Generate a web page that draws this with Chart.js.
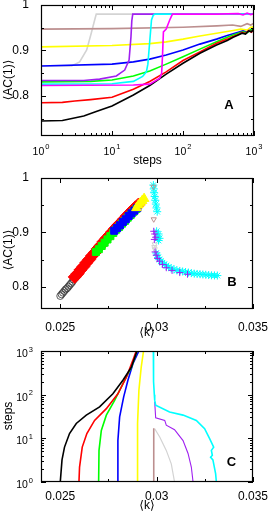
<!DOCTYPE html>
<html>
<head>
<meta charset="utf-8">
<script src="https://cdn.jsdelivr.net/npm/chart.js@4.4.1/dist/chart.umd.min.js"></script>
<style>
html, body { margin: 0; padding: 0; background: #fff; }
#wrap { position: relative; width: 270px; height: 515px; }
canvas { position: absolute; left: 0; }
</style>
</head>
<body>
<div id="wrap">
  <canvas id="chartA" width="270" height="170" style="top:0"></canvas>
  <canvas id="chartB" width="270" height="170" style="top:170px"></canvas>
  <canvas id="chartC" width="270" height="175" style="top:340px"></canvas>
</div>
<script>
// ---- panel A: <AC(1)> vs steps ----
const stepsBlack = [1,2,4,6,10,20,34,58,100,173,297,420,509,600,680,760,840,920,1000]
const acBlack = [0.745,0.746,0.756,0.766,0.778,0.802,0.823,0.848,0.872,0.894,0.912,0.922,0.929,0.934,0.938,0.936,0.943,0.941,0.948]
const stepsRed = [1,2,3,5,10,20,34,58,100,173,297,420,509,600,680,760,840,920,1000]
const acRed = [0.785,0.786,0.789,0.792,0.797,0.815,0.832,0.853,0.878,0.897,0.916,0.925,0.931,0.935,0.940,0.937,0.944,0.940,0.947]
const stepsGreen = [1,5,10,20,34,58,100,173,297,420,509,600,700,800,900,1000]
const acGreen = [0.831,0.832,0.835,0.844,0.855,0.870,0.886,0.903,0.919,0.929,0.934,0.938,0.941,0.939,0.945,0.947]
const stepsBlue = [1,10,20,34,58,100,173,297,420,509,600,700,800,900,1000]
const acBlue = [0.866,0.870,0.875,0.881,0.890,0.901,0.914,0.925,0.933,0.937,0.940,0.943,0.940,0.946,0.945]
const stepsYellow = [1,10,34,58,100,173,297,509,650,800,900,1000]
const acYellow = [0.908,0.911,0.915,0.919,0.925,0.932,0.938,0.944,0.947,0.945,0.951,0.952]
const stepsBrown = [1,10,100,300,500,650,800,900,1000]
const acBrown = [0.947,0.948,0.951,0.954,0.956,0.953,0.959,0.956,0.960]
const stepsGray = [1,2.7,3.5,4.4,5.1,5.7,6,100,1000]
const acGray = [0.866,0.866,0.875,0.901,0.938,0.967,0.980,0.980,0.980]
const stepsPurple = [1,4,6.7,11.5,15.1,17.4,18.5,19,19.6,100,1000]
const acPurple = [0.834,0.834,0.837,0.844,0.857,0.879,0.930,0.965,0.980,0.980,0.980]
const stepsCyan = [1,10,20,27,30.5,32,34,36,38,40,100,1000]
const acCyan = [0.826,0.827,0.832,0.843,0.853,0.870,0.920,0.967,0.977,0.980,0.980,0.980]
const stepsMagenta = [1,20,34,47,50,51.5,53,58,65,71,300,600,700,800,900,1000]
const acMagenta = [0.823,0.824,0.826,0.839,0.850,0.890,0.941,0.947,0.967,0.980,0.980,0.981,0.978,0.982,0.979,0.981]

// ---- panel B: <AC(1)> vs <k> ----
const bkBlack = [0.02500,0.02507,0.02514,0.02521,0.02528,0.02535,0.02542,0.02549,0.02556,0.02563,0.02570,0.02577,0.02584,0.02591,0.02598]
const bacBlack = [0.783,0.786,0.789,0.792,0.795,0.797,0.800,0.803,0.806,0.809,0.813,0.816,0.819,0.822,0.825]
const bkRed = [0.02575,0.02590,0.02605,0.02620,0.02635,0.02650,0.02665,0.02680,0.02695,0.02710,0.02725,0.02740,0.02755,0.02770,0.02785,0.02800,0.02815,0.02830,0.02845,0.02860,0.02875,0.02890,0.02905]
const bacRed = [0.818,0.824,0.831,0.837,0.844,0.850,0.857,0.863,0.870,0.876,0.883,0.889,0.895,0.901,0.907,0.913,0.918,0.924,0.930,0.935,0.941,0.946,0.951]
const bkGreen = [0.02685,0.02700,0.02715,0.02730,0.02745,0.02760,0.02775,0.02790,0.02805,0.02820,0.02835,0.02850,0.02865,0.02880,0.02895]
const bacGreen = [0.864,0.869,0.875,0.881,0.887,0.893,0.899,0.905,0.910,0.916,0.921,0.927,0.932,0.938,0.943]
const bkBlue = [0.02780,0.02795,0.02810,0.02825,0.02840,0.02855,0.02870,0.02885,0.02900]
const bacBlue = [0.903,0.908,0.913,0.919,0.924,0.930,0.935,0.940,0.945]
const bkYellow = [0.02895,0.02905,0.02915,0.02925,0.02935]
const bacYellow = [0.945,0.950,0.954,0.958,0.962]
const bkCyan = [0.02983,0.02985,0.02987,0.02990,0.02993,0.02996,0.02999,0.03003,
  0.03000,0.03010,0.03005,0.03015,0.03010,
  0.02998,0.03002,0.03008,0.03015,0.03022,0.03030,0.03040,0.03050,0.03062,0.03075,0.03090,0.03105,0.03120,0.03135,0.03150,0.03165,0.03180,0.03195,0.03210,0.03225,0.03240,0.03255,0.03270,0.03285,0.03300,0.03315]
const bacCyan = [0.987,0.980,0.973,0.966,0.959,0.952,0.945,0.938,
  0.902,0.897,0.893,0.889,0.885,
  0.862,0.858,0.854,0.850,0.847,0.844,0.841,0.839,0.836,0.834,0.832,0.830,0.829,0.828,0.827,0.826,0.825,0.824,0.8235,0.823,0.8225,0.822,0.8215,0.821,0.8208,0.8205]
const bkPurple = [0.02985,0.02990,0.02995,0.02988,0.02992,0.02998,0.03005,0.03015,0.03030,0.03050,0.03080,0.03120,0.03160]
const bacPurple = [0.902,0.897,0.891,0.887,0.864,0.858,0.852,0.847,0.841,0.835,0.830,0.826,0.823]
const bkBrown = [0.02983,0.02985]
const bacBrown = [0.984,0.924]
const bkGray = [0.02990,0.02990,0.02988]
const bacGray = [0.878,0.869,0.873]

// ---- panel C: steps vs <k> ----
const ckBlack = [0.02500,0.02509,0.02522,0.02548,0.02583,0.02635,0.02704,0.02773,0.02825,0.02869,0.02898]
const csBlack = [1,3.2,6.3,12.9,21.9,33.9,52.5,105,214,427,1000]
const ckRed = [0.02597,0.02600,0.02614,0.02638,0.02678,0.02739,0.02799,0.02843,0.02877,0.02894]
const csRed = [1,2.2,6.3,12.9,25.7,47.9,105,251,617,1000]
const ckGreen = [0.02699,0.02701,0.02713,0.02739,0.02782,0.02825,0.02869,0.02898]
const csGreen = [1,5.3,15.1,33.9,74,178,427,1000]
const ckBlue = [0.02799,0.02799,0.02808,0.02829,0.02851,0.02877,0.02908]
const csBlue = [1,8.9,30.9,89,214,513,1000]
const ckYellow = [0.02900,0.02901,0.02908,0.02920,0.02932]
const csYellow = [1,21.9,126,427,1000]
const ckBrown = [0.02983,0.02985]
const csBrown = [1,17]
const ckGray = [0.02990,0.03016,0.03050,0.03076,0.03093]
const csGray = [16.6,10.7,5.3,2.6,1]
const ckPurple = [0.02990,0.02995,0.03042,0.03050,0.03093,0.03137,0.03163,0.03180,0.03189]
const csPurple = [68,29.5,25.7,20,15.8,8.9,4.5,2.2,1]
const ckCyan = [0.02983,0.02983,0.02985,0.02988,0.02990,0.02995,0.03067,0.03137,0.03206,0.03249,0.03275,0.03296,0.03284,0.03289,0.03280,0.03292,0.03306,0.03310]
const csCyan = [1000,500,200,100,75,57,40,34,25.7,16.6,9.8,6.3,5.3,4.1,3.7,3.2,1.55,1]

const kTicks = [0.025, 0.03, 0.035]
const acTicks = [0.8, 0.9, 1]

const FONT = 'Liberation Sans, Arial, DejaVu Sans, sans-serif'
const col = {
  black: '#000000', red: '#ff0000', green: '#00ff00', blue: '#0000ff',
  yellow: '#ffff00', brown: '#bc8f8f', gray: '#d3d3d3', purple: '#a020f0',
  cyan: '#00ffff', magenta: '#ff00ff'
}

function pts(xs, ys) { return xs.map((x, i) => ({ x: x, y: ys[i] })) }

function line(xs, ys, color, w) {
  return { data: pts(xs, ys), borderColor: color, borderWidth: w || 1.6,
    pointRadius: 0, showLine: true, fill: false, tension: 0 }
}

function marks(xs, ys, color, style, r, filled, rot, bw) {
  return { data: pts(xs, ys), showLine: false, pointStyle: style, pointRadius: r,
    pointRotation: rot || 0, borderColor: color, borderWidth: bw || 1,
    backgroundColor: filled ? color : 'rgba(0,0,0,0)' }
}

// inward ticks on all four sides, box, log labels, titles and panel letter
function deco(o) {
  return {
    id: 'deco',
    afterDraw(chart) {
      const ctx = chart.ctx, a = chart.chartArea
      const xs = chart.scales.x, ys = chart.scales.y
      ctx.save()
      ctx.strokeStyle = '#000'
      ctx.lineWidth = 1
      ctx.beginPath()
      o.xMajor.forEach(v => {
        const p = Math.round(xs.getPixelForValue(v)) + 0.5
        ctx.moveTo(p, a.bottom); ctx.lineTo(p, a.bottom - 5)
        ctx.moveTo(p, a.top); ctx.lineTo(p, a.top + 5)
      })
      o.xMinor.forEach(v => {
        const p = Math.round(xs.getPixelForValue(v)) + 0.5
        ctx.moveTo(p, a.bottom); ctx.lineTo(p, a.bottom - 3)
        ctx.moveTo(p, a.top); ctx.lineTo(p, a.top + 3)
      })
      o.yMajor.forEach(v => {
        const p = Math.round(ys.getPixelForValue(v)) + 0.5
        ctx.moveTo(a.left, p); ctx.lineTo(a.left + 5, p)
        ctx.moveTo(a.right, p); ctx.lineTo(a.right - 5, p)
      })
      o.yMinor.forEach(v => {
        const p = Math.round(ys.getPixelForValue(v)) + 0.5
        ctx.moveTo(a.left, p); ctx.lineTo(a.left + 3, p)
        ctx.moveTo(a.right, p); ctx.lineTo(a.right - 3, p)
      })
      ctx.stroke()
      ctx.lineWidth = 1.2
      ctx.strokeRect(a.left + 0.5, a.top + 0.5, a.right - a.left - 1, a.bottom - a.top - 1)

      ctx.fillStyle = '#000'
      ctx.textBaseline = 'alphabetic'
      if (o.logX) {
        o.xMajor.forEach(v => {
          const e = String(Math.round(Math.log10(v)))
          const p = xs.getPixelForValue(v)
          ctx.font = '10.5px ' + FONT
          const w1 = ctx.measureText('10').width
          ctx.font = '7.5px ' + FONT
          const w2 = ctx.measureText(e).width
          const x0 = p - (w1 + w2 + 1) / 2
          ctx.textAlign = 'left'
          ctx.font = '10.5px ' + FONT
          ctx.fillText('10', x0, o.logBase)
          ctx.font = '7.5px ' + FONT
          ctx.fillText(e, x0 + w1 + 1, o.logBase - 6.5)
        })
      }
      if (o.logY) {
        o.yMajor.forEach(v => {
          const e = String(Math.round(Math.log10(v)))
          const p = ys.getPixelForValue(v)
          ctx.font = '7.5px ' + FONT
          const w2 = ctx.measureText(e).width
          ctx.textAlign = 'right'
          ctx.fillText(e, 33, p + 0.5)
          ctx.font = '10.5px ' + FONT
          ctx.fillText('10', 33 - w2 - 1, p + 6)
        })
      }
      ctx.font = '12px ' + FONT
      ctx.textAlign = 'center'
      ctx.textBaseline = 'middle'
      ctx.fillText(o.xTitle, o.xTitlePos[0], o.xTitlePos[1])
      ctx.save()
      ctx.translate(o.yTitlePos[0], o.yTitlePos[1])
      ctx.rotate(-Math.PI / 2)
      ctx.fillText(o.yTitle, 0, 0)
      ctx.restore()
      ctx.font = 'bold 13px ' + FONT
      ctx.fillText(o.letter, o.letterPos[0], o.letterPos[1])
      ctx.restore()
    }
  }
}

function fixW(w) { return s => { s.width = w; s.paddingTop = 0; s.paddingBottom = 0 } }
function fixH(h) { return s => { s.height = h; s.paddingLeft = 0; s.paddingRight = 0 } }

const baseOpts = {
  responsive: false,
  animation: false,
  devicePixelRatio: 1,
  plugins: { legend: { display: false }, tooltip: { enabled: false } },
}

// ---- chart A ----
new Chart(document.getElementById('chartA'), {
  type: 'scatter',
  data: { datasets: [
    line(stepsMagenta, acMagenta, col.magenta),
    line(stepsCyan, acCyan, col.cyan),
    line(stepsPurple, acPurple, col.purple),
    line(stepsBlack, acBlack, col.black),
    line(stepsRed, acRed, col.red),
    line(stepsGreen, acGreen, col.green),
    line(stepsBlue, acBlue, col.blue),
    line(stepsYellow, acYellow, col.yellow),
    line(stepsBrown, acBrown, col.brown),
    line(stepsGray, acGray, col.gray),
  ] },
  options: Object.assign({}, baseOpts, {
    layout: { padding: { left: 0, right: 16, top: 5, bottom: 0 } },
    scales: {
      x: { type: 'logarithmic', min: 1, max: 1000,
        grid: { display: false }, border: { display: false },
        ticks: { display: false }, afterFit: fixH(34) },
      y: { type: 'linear', min: 0.712, max: 1.0,
        grid: { display: false }, border: { display: false },
        afterBuildTicks: s => { s.ticks = acTicks.map(v => ({ value: v })) },
        ticks: { font: { family: FONT, size: 12 }, color: '#000', padding: 4,
          callback: v => String(+v.toFixed(2)) },
        afterFit: fixW(41) }
    }
  }),
  plugins: [deco({
    logX: true, logBase: 155,
    xMajor: [1, 10, 100, 1000],
    xMinor: [2,3,4,5,6,7,8,9,20,30,40,50,60,70,80,90,200,300,400,500,600,700,800,900],
    yMajor: [0.8, 0.9], yMinor: [0.75, 0.85, 0.95],
    xTitle: 'steps', xTitlePos: [147.5, 161],
    yTitle: '\u27E8AC(1)\u27E9', yTitlePos: [9, 80],
    letter: 'A', letterPos: [229, 105]
  })]
})

// ---- chart B ----
new Chart(document.getElementById('chartB'), {
  type: 'scatter',
  data: { datasets: [
    marks(bkPurple, bacPurple, col.purple, 'cross', 3.5, false),
    marks(bkBrown, bacBrown, col.brown, 'triangle', 3, false, 180),
    marks(bkGray, bacGray, col.gray, 'triangle', 3, false, 180),
    marks(bkCyan, bacCyan, col.cyan, 'star', 4, false),
    marks(bkYellow, bacYellow, col.yellow, 'triangle', 5.5, true),
    marks(bkBlue, bacBlue, col.blue, 'rect', 5, true),
    marks(bkGreen, bacGreen, col.green, 'rect', 5, true),
    marks(bkRed, bacRed, col.red, 'rectRot', 6.5, true),
    marks(bkBlack, bacBlack, '#333333', 'circle', 3.5, false, 0, 0.8),
  ] },
  options: Object.assign({}, baseOpts, {
    layout: { padding: { left: 0, right: 17, top: 8, bottom: 0 } },
    scales: {
      x: { type: 'linear', min: 0.024, max: 0.035,
        grid: { display: false }, border: { display: false },
        afterBuildTicks: s => { s.ticks = kTicks.map(v => ({ value: v })) },
        ticks: { font: { family: FONT, size: 12 }, color: '#000', padding: 3, maxRotation: 0,
          callback: v => String(+v.toFixed(3)) },
        afterFit: fixH(31) },
      y: { type: 'linear', min: 0.759, max: 1.0,
        grid: { display: false }, border: { display: false },
        afterBuildTicks: s => { s.ticks = acTicks.map(v => ({ value: v })) },
        ticks: { font: { family: FONT, size: 12 }, color: '#000', padding: 4,
          callback: v => String(+v.toFixed(2)) },
        afterFit: fixW(41) }
    }
  }),
  plugins: [deco({
    xMajor: kTicks, xMinor: [0.0275, 0.0325],
    yMajor: [0.8, 0.9], yMinor: [0.85, 0.95],
    xTitle: '\u27E8k\u27E9', xTitlePos: [147, 163],
    yTitle: '\u27E8AC(1)\u27E9', yTitlePos: [9, 80],
    letter: 'B', letterPos: [232, 112]
  })]
})

// ---- chart C ----
new Chart(document.getElementById('chartC'), {
  type: 'scatter',
  data: { datasets: [
    line(ckCyan, csCyan, col.cyan),
    line(ckPurple, csPurple, col.purple, 1.1),
    line(ckBlack, csBlack, col.black),
    line(ckRed, csRed, col.red),
    line(ckGreen, csGreen, col.green),
    line(ckBlue, csBlue, col.blue),
    line(ckYellow, csYellow, col.yellow),
    line(ckBrown, csBrown, col.brown),
    line(ckGray, csGray, col.gray, 1.2),
  ] },
  options: Object.assign({}, baseOpts, {
    layout: { padding: { left: 0, right: 17, top: 11, bottom: 0 } },
    scales: {
      x: { type: 'linear', min: 0.024, max: 0.035,
        grid: { display: false }, border: { display: false },
        afterBuildTicks: s => { s.ticks = kTicks.map(v => ({ value: v })) },
        ticks: { font: { family: FONT, size: 12 }, color: '#000', padding: -1, maxRotation: 0,
          callback: v => String(+v.toFixed(3)) },
        afterFit: fixH(33) },
      y: { type: 'logarithmic', min: 1, max: 1000,
        grid: { display: false }, border: { display: false },
        ticks: { display: false }, afterFit: fixW(41) }
    }
  }),
  plugins: [deco({
    logY: true,
    xMajor: kTicks, xMinor: [0.0275, 0.0325],
    yMajor: [1, 10, 100, 1000],
    yMinor: [2,3,4,5,6,7,8,9,20,30,40,50,60,70,80,90,200,300,400,500,600,700,800,900],
    xTitle: '\u27E8k\u27E9', xTitlePos: [147, 166],
    yTitle: 'steps', yTitlePos: [9, 76],
    letter: 'C', letterPos: [231.5, 122]
  })]
})
</script>
</body>
</html>
